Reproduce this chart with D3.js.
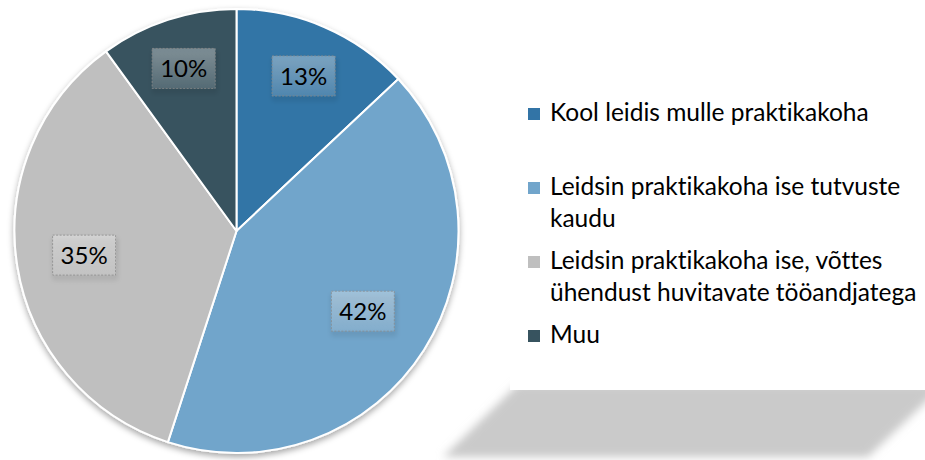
<!DOCTYPE html>
<html><head><meta charset="utf-8">
<script src="https://cdn.jsdelivr.net/npm/d3@7"></script>
<style>html,body{margin:0;padding:0;background:#fff;}svg{display:block;}text{font-variant-ligatures:none;font-feature-settings:"liga" 0;}</style>
</head><body>
<svg id="chart" width="925" height="460"></svg>
<script>
const categories = [
  "Kool leidis mulle praktikakoha",
  "Leidsin praktikakoha ise tutvuste kaudu",
  "Leidsin praktikakoha ise, võttes ühendust huvitavate tööandjatega",
  "Muu"
];
const values = [13, 42, 35, 10];
const valueLabels = ["13%", "42%", "35%", "10%"];
const colors = ["#3274a6", "#71a5cb", "#bfbfbf", "#37535f"];

const svg = d3.select("#chart");
const W = 925, H = 460;
const cx = 236.5, cy = 231, R = 222;
const FONT = "Lato, 'Noto Sans', sans-serif";

const defs = svg.append("defs");
const pieShadow = defs.append("filter").attr("id", "pieShadow")
  .attr("x", "-20%").attr("y", "-20%").attr("width", "140%").attr("height", "140%");
pieShadow.append("feDropShadow").attr("dx", 0).attr("dy", 3).attr("stdDeviation", 3)
  .attr("flood-color", "#000").attr("flood-opacity", 0.35);
const boxShadow = defs.append("filter").attr("id", "boxShadow")
  .attr("x", "-30%").attr("y", "-30%").attr("width", "160%").attr("height", "180%");
boxShadow.append("feDropShadow").attr("dx", 1).attr("dy", 4).attr("stdDeviation", 2.5)
  .attr("flood-color", "#000").attr("flood-opacity", 0.45);
const blur = defs.append("filter").attr("id", "blur")
  .attr("x", "-20%").attr("y", "-40%").attr("width", "140%").attr("height", "180%");
blur.append("feGaussianBlur").attr("stdDeviation", 4);
const grad = defs.append("linearGradient").attr("id", "boxGrad")
  .attr("x1", 0).attr("y1", 0).attr("x2", 0).attr("y2", 1);
grad.append("stop").attr("offset", "0%").attr("stop-color", "#fff").attr("stop-opacity", 0.32);
grad.append("stop").attr("offset", "100%").attr("stop-color", "#fff").attr("stop-opacity", 0.12);

// Legend perspective shadow
const legX = 510, legTop = 70, legBottom = 390;
svg.append("polygon")
  .attr("points", [[legX + 8, legBottom - 6], [W + 20, legBottom - 6], [868, 457], [443, 457]].map(p => p.join(",")).join(" "))
  .attr("fill", "#cacaca")
  .attr("filter", "url(#blur)");
svg.append("rect").attr("x", legX).attr("y", legTop).attr("width", W - legX + 5).attr("height", legBottom - legTop)
  .attr("fill", "#fff");

// Pie
const pie = d3.pie().sort(null).value(d => d)(values);
const arc = d3.arc().innerRadius(0).outerRadius(R);
const labelR = d => R * (0.8 - 0.3 * (d.endAngle - d.startAngle) / (2 * Math.PI));

const g = svg.append("g").attr("transform", `translate(${cx},${cy})`);
const pg = g.append("g").attr("filter", "url(#pieShadow)");
pg.selectAll("path").data(pie).join("path")
  .attr("d", arc)
  .attr("fill", (d, i) => colors[i])
  .attr("stroke", "#fff")
  .attr("stroke-width", 2)
  .attr("stroke-linejoin", "round");

const bw = 63, bh = 40;
const lg = g.selectAll("g.lbl").data(pie).join("g").attr("class", "lbl")
  .attr("transform", d => {
    const r = labelR(d);
    return `translate(${d3.arc().innerRadius(r).outerRadius(r).centroid(d)})`;
  });
lg.append("rect")
  .attr("x", -bw / 2).attr("y", -bh / 2).attr("width", bw).attr("height", bh)
  .attr("fill", "url(#boxGrad)")
  .attr("stroke", "#8a8a8a").attr("stroke-width", 0.8).attr("stroke-dasharray", "2,1.5")
  .attr("filter", "url(#boxShadow)");
lg.append("text")
  .attr("text-anchor", "middle").attr("dy", "0.36em")
  .attr("font-family", FONT).attr("font-size", 24).attr("fill", "#000")
  .text((d, i) => valueLabels[i]);

// Legend
const yItem = d3.scalePoint().domain(categories).range([121, 343]);
const maxW = 380;
const leg = svg.append("g");
const items = leg.selectAll("g").data(categories).join("g")
  .attr("transform", d => `translate(0,${yItem(d)})`);
items.append("rect")
  .attr("x", 528).attr("y", -13).attr("width", 12).attr("height", 12)
  .attr("fill", (d, i) => colors[i]);
items.each(function (d) {
  const t = d3.select(this).append("text")
    .attr("x", 550).attr("y", 0)
    .attr("font-family", FONT).attr("font-size", 24.5).attr("fill", "#000");
  const words = d.split(" ");
  let line = [];
  let ts = t.append("tspan").attr("x", 550).attr("dy", 0);
  for (const w of words) {
    line.push(w);
    ts.text(line.join(" "));
    if (ts.node().getComputedTextLength() > maxW && line.length > 1) {
      line.pop();
      ts.text(line.join(" "));
      line = [w];
      ts = t.append("tspan").attr("x", 550).attr("dy", 32).text(w);
    }
  }
});
</script>
</body></html>
